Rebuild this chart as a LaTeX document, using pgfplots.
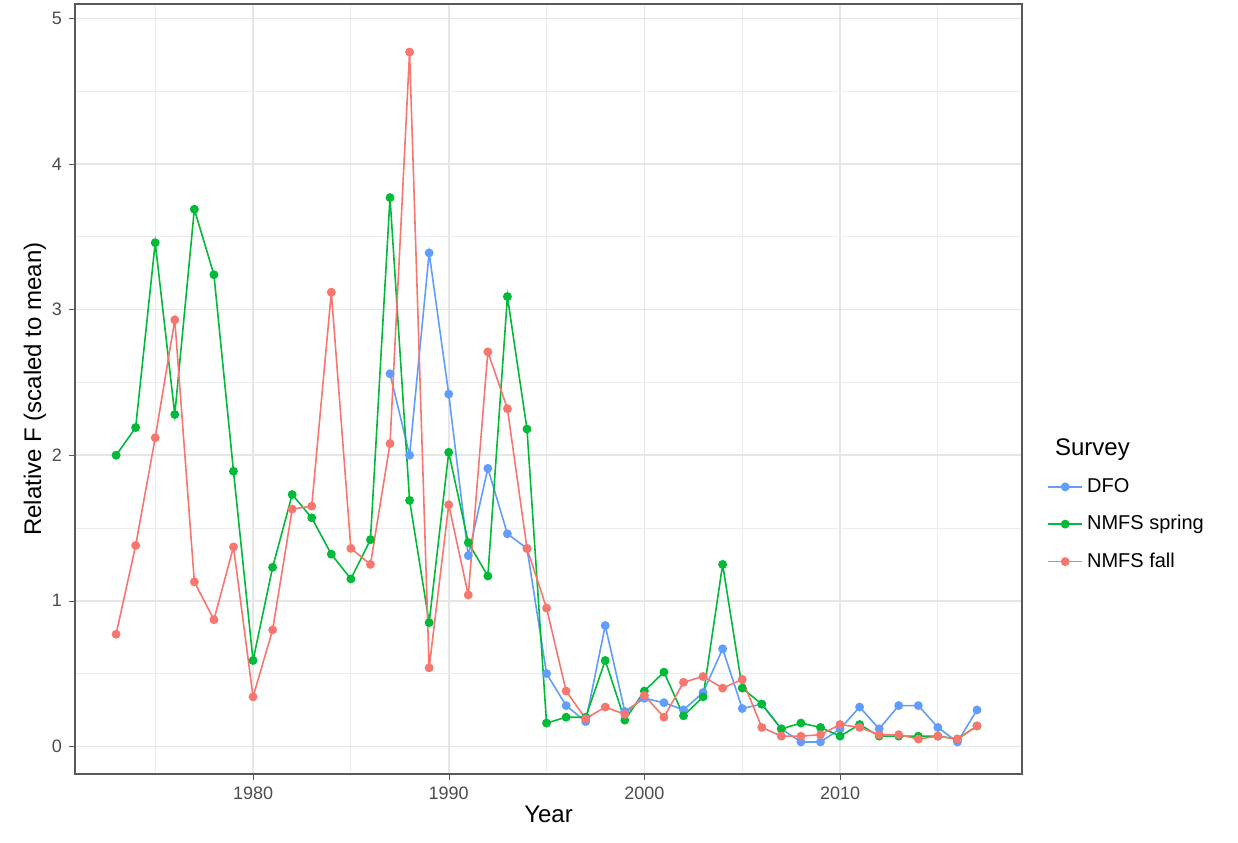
\documentclass[border=0pt]{standalone}
\usepackage{pgfplots}
\pgfplotsset{compat=1.18}
\usepackage{fontspec}
\setmainfont{Liberation Sans}
\definecolor{cdfo}{HTML}{619CFF}
\definecolor{cspr}{HTML}{00BA38}
\definecolor{cfal}{HTML}{F8766D}
\definecolor{g92}{HTML}{E6E6E6}
\begin{document}
\begin{tikzpicture}
\path[use as bounding box] (-37.5pt,-34pt) rectangle (581.5pt,387pt);
\begin{axis}[scale only axis, width=473.5pt, height=385pt, at={(0,0)},
 xmin=1970.9, xmax=2019.3, ymin=-0.19, ymax=5.1,
 xtick={1980,1990,2000,2010}, minor xtick={1975,1985,1995,2005,2015},
 ytick={0,1,2,3,4,5}, minor ytick={0.5,1.5,2.5,3.5,4.5},
 grid=both, major grid style={g92,line width=0.8pt}, minor grid style={g92!70,line width=0.4pt},
 axis line style={draw=none},
 tick pos=left,
 tick style={gray!70!black}, tick align=outside, major tick length=3pt, minor tick length=0pt,
 xticklabel style={/pgf/number format/1000 sep={}, font=\small, text=gray!60!black},
 yticklabel style={font=\small, text=gray!60!black},
 /pgf/number format/assume math mode=true,
 xlabel={Year}, ylabel={Relative F (scaled to mean)},
 label style={font=\large},
 xlabel style={yshift=4pt}, ylabel style={yshift=-4pt},
 every axis plot/.append style={line width=0.8pt, mark=*, mark size=1.8pt},
 legend style={at={(1.02,0.35)}, anchor=west, draw=none, font=\normalsize, row sep=6pt},
 legend cell align=left,
 ]
\addlegendimage{empty legend}\addlegendentry{\hspace{-16pt}\large Survey}
\addplot[color=cdfo] coordinates {(1987,2.56)(1988,2.00)(1989,3.39)(1990,2.42)(1991,1.31)(1992,1.91)(1993,1.46)(1994,1.36)(1995,0.50)(1996,0.28)(1997,0.17)(1998,0.83)(1999,0.24)(2000,0.33)(2001,0.30)(2002,0.25)(2003,0.37)(2004,0.67)(2005,0.26)(2006,0.29)(2007,0.12)(2008,0.03)(2009,0.03)(2010,0.12)(2011,0.27)(2012,0.12)(2013,0.28)(2014,0.28)(2015,0.13)(2016,0.03)(2017,0.25)};
\addlegendentry{DFO}
\addplot[color=cspr] coordinates {(1973,2.0)(1974,2.19)(1975,3.46)(1976,2.28)(1977,3.69)(1978,3.24)(1979,1.89)(1980,0.59)(1981,1.23)(1982,1.73)(1983,1.57)(1984,1.32)(1985,1.15)(1986,1.42)(1987,3.77)(1988,1.69)(1989,0.85)(1990,2.02)(1991,1.40)(1992,1.17)(1993,3.09)(1994,2.18)(1995,0.16)(1996,0.20)(1997,0.20)(1998,0.59)(1999,0.18)(2000,0.38)(2001,0.51)(2002,0.21)(2003,0.34)(2004,1.25)(2005,0.40)(2006,0.29)(2007,0.12)(2008,0.16)(2009,0.13)(2010,0.07)(2011,0.15)(2012,0.07)(2013,0.07)(2014,0.07)(2015,0.07)(2016,0.05)(2017,0.14)};
\addlegendentry{NMFS spring}
\addplot[color=cfal] coordinates {(1973,0.77)(1974,1.38)(1975,2.12)(1976,2.93)(1977,1.13)(1978,0.87)(1979,1.37)(1980,0.34)(1981,0.80)(1982,1.63)(1983,1.65)(1984,3.12)(1985,1.36)(1986,1.25)(1987,2.08)(1988,4.77)(1989,0.54)(1990,1.66)(1991,1.04)(1992,2.71)(1993,2.32)(1994,1.36)(1995,0.95)(1996,0.38)(1997,0.19)(1998,0.27)(1999,0.22)(2000,0.35)(2001,0.20)(2002,0.44)(2003,0.48)(2004,0.40)(2005,0.46)(2006,0.13)(2007,0.07)(2008,0.07)(2009,0.08)(2010,0.15)(2011,0.13)(2012,0.08)(2013,0.08)(2014,0.05)(2015,0.07)(2016,0.05)(2017,0.14)};
\addlegendentry{NMFS fall}
\end{axis}
\draw[gray!70!black,line width=0.7pt] (0,0) rectangle (473.5pt,385pt);
\end{tikzpicture}
\end{document}
